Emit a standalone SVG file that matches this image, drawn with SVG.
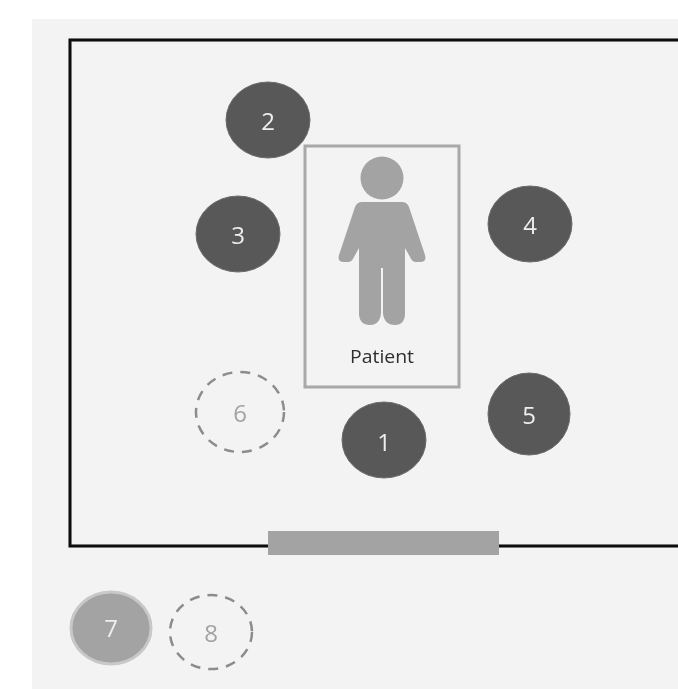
<svg xmlns="http://www.w3.org/2000/svg" width="678" height="689" viewBox="0 0 678 689">
<style>
.d{fill:#595959;stroke:#6a6a6a;stroke-width:1}
.g{fill:none;stroke:#8c8c8c;stroke-width:2.500;stroke-dasharray:10 8}
text{font-family:"Open Sans","Noto Sans","Liberation Sans",sans-serif;text-anchor:middle}
.w{fill:#eeeeee;font-size:24px}
.a{fill:#a3a3a3;font-size:24px}
.p{fill:#a3a3a3}
</style>
<defs><filter id="soft" x="0" y="0" width="100%" height="100%" filterUnits="userSpaceOnUse" primitiveUnits="userSpaceOnUse"><feGaussianBlur stdDeviation="0.600"/></filter></defs>
<rect width="678" height="689" fill="#ffffff"/>
<rect x="32" y="19" width="646" height="670" fill="#f3f3f3"/>
<g filter="url(#soft)">
<path id="room" d="M678 40H70V546H678" fill="none" stroke="#0c0c0c" stroke-width="3"/>
<rect id="door" x="268" y="531" width="231" height="24" fill="#a3a3a3"/>
<g id="bed"><rect x="305" y="146" width="154" height="241" fill="none" stroke="#a8a8a8" stroke-width="3"/></g>
<g id="patient">
<circle class="p" cx="382" cy="178" r="21.500"/>
<path class="p" d="M362 202H402Q407 202 409 207L425 255Q427 262 420 262H416Q412 262 410 257L405 248V313Q405 325 395 325Q384 325 383 313V268H381V313Q380 325 370 325Q359 325 359 313V248L354 257Q352 262 348 262H344Q337 262 339 255L355 207Q357 202 362 202Z"/>
<text x="382" y="363" font-size="19" fill="#2e2e2e" textLength="64" lengthAdjust="spacingAndGlyphs">Patient</text>
</g>
<g id="n2"><ellipse class="d" cx="268" cy="120" rx="42" ry="38"/><text class="w" x="268" y="130">2</text></g>
<g id="n3"><ellipse class="d" cx="238" cy="234" rx="42" ry="38"/><text class="w" x="238" y="244">3</text></g>
<g id="n4"><ellipse class="d" cx="530" cy="224" rx="42" ry="38"/><text class="w" x="530" y="234">4</text></g>
<g id="n5"><ellipse class="d" cx="529" cy="414" rx="41" ry="41"/><text class="w" x="529" y="424">5</text></g>
<g id="n1"><ellipse class="d" cx="384" cy="440" rx="42" ry="38"/><text class="w" x="384" y="451">1</text></g>
<g id="n6"><ellipse class="g" cx="240" cy="412" rx="44" ry="40"/><text class="a" x="240" y="422">6</text></g>
<g id="n7"><ellipse cx="111" cy="628" rx="40" ry="36" fill="#a3a3a3" stroke="#c8c8c8" stroke-width="3"/><text class="w" x="111" y="637">7</text></g>
<g id="n8"><ellipse class="g" cx="211" cy="632" rx="41" ry="37"/><text class="a" x="211" y="642">8</text></g>
<g id="connectors"></g>
</g>
</svg>
